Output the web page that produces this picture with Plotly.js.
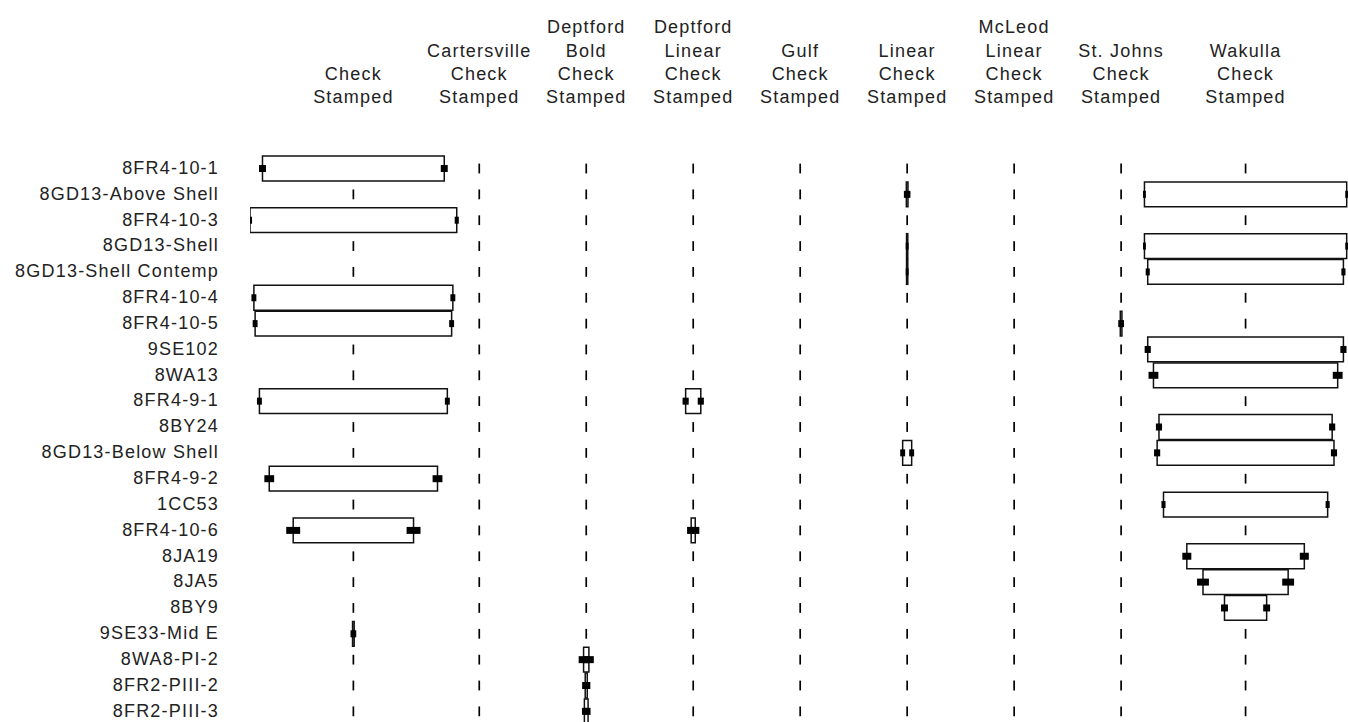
<!DOCTYPE html>
<html><head><meta charset="utf-8">
<script src="https://cdn.plot.ly/plotly-3.0.1.min.js"></script>
<style>
html,body{margin:0;padding:0;background:#fff;}
#chart{width:1348px;height:722px;}
.xtick text,.ytick text{letter-spacing:1.2px;}
</style></head><body><div id="chart"></div>
<script>
// ---- data ----
const proveniences = ["8FR4-10-1","8GD13-Above Shell","8FR4-10-3","8GD13-Shell","8GD13-Shell Contemp",
  "8FR4-10-4","8FR4-10-5","9SE102","8WA13","8FR4-9-1","8BY24","8GD13-Below Shell","8FR4-9-2","1CC53",
  "8FR4-10-6","8JA19","8JA5","8BY9","9SE33-Mid E","8WA8-PI-2","8FR2-PIII-2","8FR2-PIII-3"];
const typeLabels = ["Check<br>Stamped","Cartersville<br>Check<br>Stamped","Deptford<br>Bold<br>Check<br>Stamped",
  "Deptford<br>Linear<br>Check<br>Stamped","Gulf<br>Check<br>Stamped","Linear<br>Check<br>Stamped",
  "McLeod<br>Linear<br>Check<br>Stamped","St. Johns<br>Check<br>Stamped","Wakulla<br>Check<br>Stamped"];
// percentages per type (rows follow proveniences)
const checkStamped            = [44.4,0,50.5,0,0,48.6,48.0,0,0,45.9,0,0,41.1,0,29.4,0,0,0,0.4,0,0,0];
const cartersvilleCheck       = [0,0,0,0,0,0,0,0,0,0,0,0,0,0,0,0,0,0,0,0,0,0];
const deptfordBoldCheck       = [0,0,0,0,0,0,0,0,0,0,0,0,0,0,0,0,0,0,0,1.3,0.5,0.9];
const deptfordLinearCheck     = [0,0,0,0,0,0,0,0,0,3.7,0,0,0,0,1.0,0,0,0,0,0,0,0];
const gulfCheck               = [0,0,0,0,0,0,0,0,0,0,0,0,0,0,0,0,0,0,0,0,0,0];
const linearCheck             = [0,0.4,0,0.3,0.3,0,0,0,0,0,0,2.2,0,0,0,0,0,0,0,0,0,0];
const mcleodLinearCheck       = [0,0,0,0,0,0,0,0,0,0,0,0,0,0,0,0,0,0,0,0,0,0];
const stJohnsCheck            = [0,0,0,0,0,0,0.4,0,0,0,0,0,0,0,0,0,0,0,0,0,0,0];
const wakullaCheck            = [0,49.4,0,49.4,47.8,0,0,47.8,45.0,0,42.3,43.2,0,40.1,0,28.7,20.8,10.3,0,0,0,0];
// confidence ranges (+/- percent)
const checkStampedCI          = [1.7,0,1.0,0,0,1.2,1.2,0,0,1.2,0,0,2.4,0,3.4,0,0,0,1.0,0,0,0];
const cartersvilleCheckCI     = [0,0,0,0,0,0,0,0,0,0,0,0,0,0,0,0,0,0,0,0,0,0];
const deptfordBoldCheckCI     = [0,0,0,0,0,0,0,0,0,0,0,0,0,0,0,0,0,0,0,2.4,1.5,1.2];
const deptfordLinearCheckCI   = [0,0,0,0,0,0,0,0,0,1.5,0,0,0,0,2.0,0,0,0,0,0,0,0];
const gulfCheckCI             = [0,0,0,0,0,0,0,0,0,0,0,0,0,0,0,0,0,0,0,0,0,0];
const linearCheckCI           = [0,1.2,0,0.4,0.4,0,0,0,0,0,0,1.2,0,0,0,0,0,0,0,0,0,0];
const mcleodLinearCheckCI     = [0,0,0,0,0,0,0,0,0,0,0,0,0,0,0,0,0,0,0,0,0,0];
const stJohnsCheckCI          = [0,0,0,0,0,0,1.0,0,0,0,0,0,0,0,0,0,0,0,0,0,0,0];
const wakullaCheckCI          = [0,0.7,0,0.7,1.0,0,0,1.5,2.4,0,1.5,1.5,0,1.0,0,2.2,2.9,1.7,0,0,0,0];

// ---- layout ----
const cols = [checkStamped,cartersvilleCheck,deptfordBoldCheck,deptfordLinearCheck,gulfCheck,
  linearCheck,mcleodLinearCheck,stJohnsCheck,wakullaCheck];
const cis = [checkStampedCI,cartersvilleCheckCI,deptfordBoldCheckCI,deptfordLinearCheckCI,gulfCheckCI,
  linearCheckCI,mcleodLinearCheckCI,stJohnsCheckCI,wakullaCheckCI];
const MIN_SPACING = 26.13, PAD = 5.5;
const colMax = cols.map(c => Math.max(...c));
const centers = [];
colMax.forEach((m, i) => {
  if (i === 0) centers.push(m / 2);
  else centers.push(centers[i-1] + Math.max(MIN_SPACING, colMax[i-1]/2 + m/2 + PAD));
});

const barY = [], barX = [], barBase = [];
const edgeX = [], edgeY = [], edgeErr = [];
const zeroX = [], zeroY = [];
cols.forEach((c, ci) => {
  c.forEach((v, r) => {
    if (v > 0) {
      barY.push(r); barX.push(v); barBase.push(centers[ci] - v/2);
      const e = cis[ci][r] / 2;
      edgeX.push(centers[ci] - v/2, centers[ci] + v/2);
      edgeY.push(r, r);
      edgeErr.push(e, e);
    } else {
      zeroX.push(centers[ci]); zeroY.push(r);
    }
  });
});

const traces = [
  {type:'bar', orientation:'h', y:barY, x:barX, base:barBase, width:0.96,
   marker:{color:'#ffffff', line:{color:'#111', width:1.5}}, hoverinfo:'skip', showlegend:false},
  {type:'scatter', mode:'markers', x:edgeX, y:edgeY, marker:{size:1, color:'rgba(0,0,0,0)'},
   error_x:{type:'data', array:edgeErr, symmetric:true, thickness:7, width:0, color:'#000'},
   hoverinfo:'skip', showlegend:false},
  {type:'scatter', mode:'markers', x:zeroX, y:zeroY,
   marker:{symbol:'line-ns', size:7, line:{width:1.7, color:'#000'}, color:'#000'},
   hoverinfo:'skip', showlegend:false}
];

const font = {family:'"Liberation Sans", Arial, sans-serif', size:18, color:'#222'};
const layout = {
  width:1348, height:722,
  margin:{l:250, r:0, t:115, b:0, pad:0},
  paper_bgcolor:'#fff', plot_bgcolor:'#fff',
  font:font, showlegend:false,
  xaxis:{range:[0,268.2], side:'top', tickvals:centers, ticktext:typeLabels, ticks:'',
         showgrid:false, zeroline:false, showline:false, ticklabelstandoff:7, tickfont:font, fixedrange:true},
  yaxis:{range:[21.412,-2.070], tickvals:proveniences.map((_, i) => i), ticktext:proveniences, ticks:'',
         showgrid:false, zeroline:false, showline:false, ticklabelstandoff:30, ticklabelshift:1,
         ticklabeloverflow:'allow', tickfont:font, fixedrange:true},
  bargap:0
};
Plotly.newPlot('chart', traces, layout, {displayModeBar:false, staticPlot:true});
</script></body></html>
